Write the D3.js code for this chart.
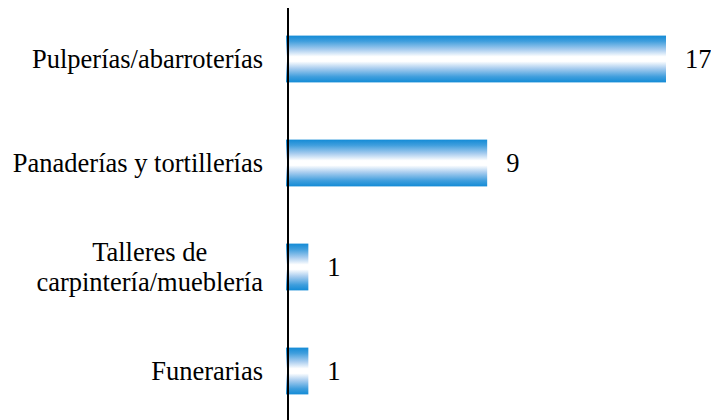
<!DOCTYPE html>
<html>
<head>
<meta charset="utf-8">
<script src="https://cdn.jsdelivr.net/npm/d3@7"></script>
</head>
<body style="margin:0">
<script>
var categories = ["Pulperías/abarroterías", "Panaderías y tortillerías", "Talleres de carpintería/mueblería", "Funerarias"];
var labelLines = [["Pulperías/abarroterías"], ["Panaderías y tortillerías"], ["Talleres de", "carpintería/mueblería"], ["Funerarias"]];
var counts = [17, 9, 1, 1];

var width = 711, height = 420;
var x0 = 286;
var font = '"Liberation Serif", monospace';
var fontSize = "26.5px";

var svg = d3.select("body").append("svg")
    .attr("width", width)
    .attr("height", height);

var grad = svg.append("defs").append("linearGradient")
    .attr("id", "barGrad")
    .attr("x1", 0).attr("y1", 0).attr("x2", 0).attr("y2", 1);
[[0, "#138bd6"], [0.12, "#3f9edd"], [0.3, "#a9cdef"], [0.45, "#ffffff"], [0.55, "#ffffff"], [0.7, "#a9cdef"], [0.88, "#3f9edd"], [1, "#138bd6"]]
    .forEach(function (s) {
        grad.append("stop").attr("offset", s[0]).attr("stop-color", s[1]);
    });

var x = d3.scaleLinear()
    .domain([0, 17])
    .range([x0, 666]);

var y = d3.scaleBand()
    .domain(categories)
    .range([7, 423])
    .paddingInner(0.55)
    .paddingOuter(0.275);

// Bars
svg.selectAll("rect.bar")
    .data(counts)
    .enter().append("rect")
    .attr("class", "bar")
    .attr("x", x(0))
    .attr("y", function (d, i) { return y(categories[i]); })
    .attr("width", function (d) { return x(d) - x(0); })
    .attr("height", y.bandwidth())
    .attr("fill", "url(#barGrad)");

// Axis line
svg.append("line")
    .attr("x1", x(0) + 2).attr("x2", x(0) + 2)
    .attr("y1", 8).attr("y2", height)
    .attr("stroke", "#000")
    .attr("stroke-width", 2);

// Value labels
svg.selectAll("text.value")
    .data(counts)
    .enter().append("text")
    .attr("class", "value")
    .attr("x", function (d) { return x(d) + 19; })
    .attr("y", function (d, i) { return y(categories[i]) + y.bandwidth() / 2; })
    .attr("dy", "0.33em")
    .attr("font-size", fontSize)
    .style("font-family", font)
    .text(function (d) { return d; });

// Category labels
var lineH = 30;
var labelRight = 263;
labelLines.forEach(function (lines, i) {
    var cy = y(categories[i]) + y.bandwidth() / 2;
    var t = svg.append("text")
        .attr("font-size", fontSize)
        .style("font-family", font)
        .attr("text-anchor", lines.length > 1 ? "middle" : "end");
    lines.forEach(function (l, k) {
        t.append("tspan")
            .attr("x", labelRight)
            .attr("y", cy + (k - (lines.length - 1) / 2) * lineH)
            .attr("dy", "0.33em")
            .text(l);
    });
    if (lines.length > 1) {
        // center the wrapped lines on the widest one, right-aligned
        var w = d3.max(t.selectAll("tspan").nodes(), function (n) { return n.getComputedTextLength(); });
        t.selectAll("tspan").attr("x", labelRight - w / 2);
    }
});
</script>
</body>
</html>
